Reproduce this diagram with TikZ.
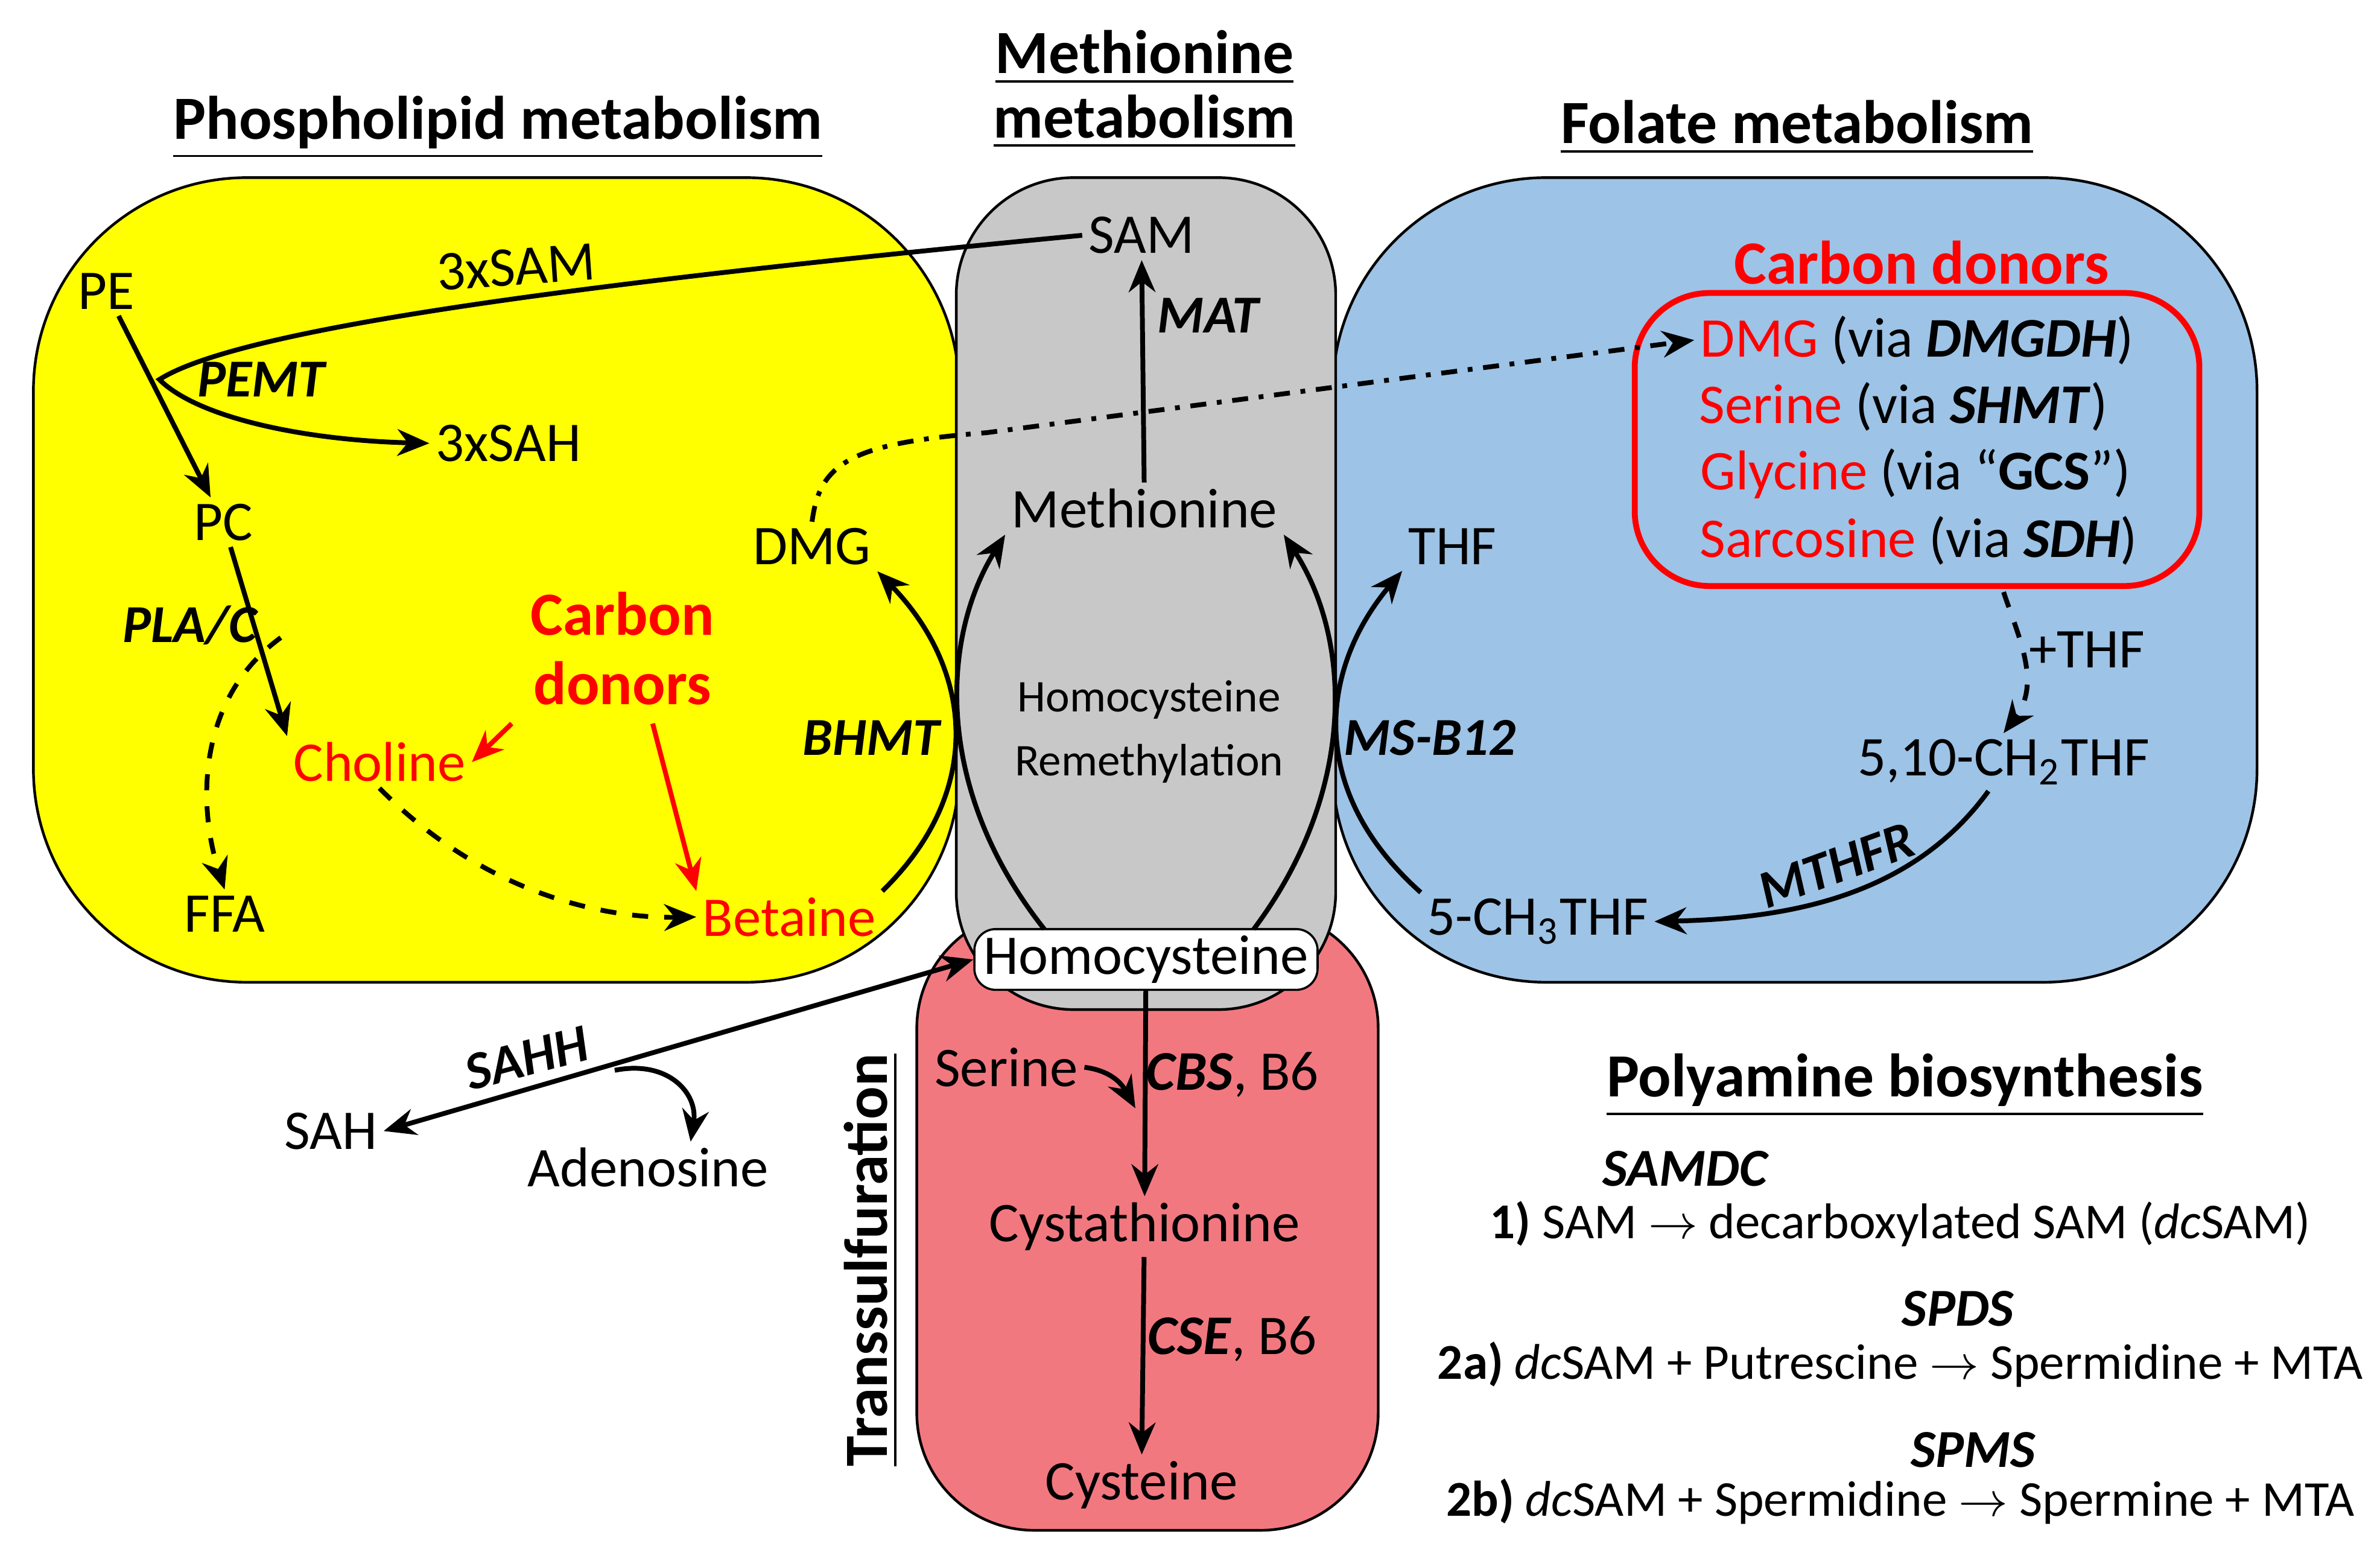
\documentclass[tikz,border=0pt]{standalone}
\usepackage{fontspec}
\setmainfont{Carlito}
\usetikzlibrary{arrows.meta}
\definecolor{yel}{HTML}{FFFF00}
\definecolor{gry}{HTML}{C8C8C8}
\definecolor{blu}{HTML}{9DC3E6}
\definecolor{pnk}{HTML}{F27880}
\definecolor{rd}{HTML}{FF0000}
\begin{document}
\begin{tikzpicture}[x=0.01cm,y=-0.01cm,
  txt/.style={font=\fontsize{10.5}{12}\selectfont,inner sep=1pt},
  ptx/.style={font=\fontsize{9.4}{12}\selectfont,inner sep=1pt},
  enz/.style={font=\fontsize{10}{12}\selectfont\bfseries\itshape,inner sep=1pt},
  ttl/.style={font=\fontsize{11.5}{14}\selectfont\bfseries,align=center},
  redt/.style={txt,text=rd},
  arr/.style={-{Stealth[length=6pt,width=5pt]},line width=0.9pt}]
\useasboundingbox (0,0) rectangle (1568,1024);
% boxes
\fill[pnk,draw=black,line width=0.5pt,rounded corners=22pt] (604,600) rectangle (908,1008);
\fill[yel,draw=black,line width=0.5pt,rounded corners=40pt] (22,117) rectangle (632,647);
\fill[blu,draw=black,line width=0.5pt,rounded corners=40pt] (878,117) rectangle (1487,647);
\fill[gry,draw=black,line width=0.5pt,rounded corners=22pt] (630,117) rectangle (880,665);
% titles
\node[ttl] (tpl) at (328,84) {\underline{Phospholipid metabolism}};
\node[ttl] (tme) at (754,59) {\underline{Methionine}\\[-2pt]\underline{metabolism}};
\node[ttl] (tfo) at (1184,84) {\underline{Folate metabolism}};
\node[ttl] (tpa) at (1255,715) {\underline{Polyamine biosynthesis}};
\node[ttl,rotate=90] (ttr) at (574,830) {\underline{Transsulfuration}};
% phospholipid
\node[txt] (pe) at (70,192) {PE};
\node[txt] (pc) at (147,344) {PC};
\node[txt,rotate=4] (sam3) at (340,176) {3xSAM};
\node[enz] (pemt) at (172,250) {PEMT};
\node[txt] (sah3) at (335,292) {3xSAH};
\node[enz] (plac) at (125,412) {PLA/C};
\node[redt] (cho) at (250,502) {Choline};
\node[ttl,text=rd] (cd1) at (410,427) {Carbon\\[-1pt]donors};
\node[txt] (ffa) at (148,602) {FFA};
\node[redt] (bet) at (520,604) {Betaine};
\node[txt] (dmg) at (535,360) {DMG};
\node[enz] (bhmt) at (574,486) {BHMT};
% methionine
\node[txt] (sam) at (752,155) {SAM};
\node[enz] (mat) at (796,208) {MAT};
\node[txt] (met) at (754,335) {Methionine};
\node[txt,font=\fontsize{8.5}{12}\selectfont,align=center] (hr) at (757,482) {Homocysteine\\Remethylation};
\node[txt,draw,fill=white,rounded corners=4pt,minimum width=22.6mm,minimum height=4mm] (hcy) at (755,632) {Homocysteine};
% folate
\node[enz] (ms) at (942,486) {MS-B12};
\node[txt] (thf) at (957,360) {THF};
\node[ttl,text=rd] (cd2) at (1266,173) {Carbon donors};
\draw[rd,line width=1.1pt,rounded corners=14pt] (1077,193) rectangle (1449,386);
\node[txt] (d1) at (1263,224) {\textcolor{rd}{DMG} (via \textbf{\textit{DMGDH}})};
\node[txt] (d2) at (1254,268) {\textcolor{rd}{Serine} (via \textbf{\textit{SHMT}})};
\node[txt] (d3) at (1262,312) {\textcolor{rd}{Glycine} (via “\textbf{GCS}”)};
\node[txt] (d4) at (1264,356) {\textcolor{rd}{Sarcosine} (via \textbf{\textit{SDH}})};
\node[txt] (pthf) at (1375,428) {+THF};
\node[txt] (ch2) at (1320,502) {5,10-CH\textsubscript{2}THF};
\node[enz,rotate=20] (mthfr) at (1210,570) {MTHFR};
\node[txt] (ch3) at (1013,607) {5-CH\textsubscript{3}THF};
% transsulfuration
\node[enz,rotate=15] (sahh) at (347,697) {SAHH};
\node[txt] (sah) at (218,745) {SAH};
\node[txt] (ade) at (427,769) {Adenosine};
\node[txt] (ser) at (663,703) {Serine};
\node[txt] (cbs) at (812,708) {\textbf{\textit{CBS}}, B6};
\node[txt] (cyt) at (754,808) {Cystathionine};
\node[txt] (cse) at (812,882) {\textbf{\textit{CSE}}, B6};
\node[txt] (cys) at (752,978) {Cysteine};
% polyamine
\node[enz] (samdc) at (1110,770) {SAMDC};
\node[ptx] (p1) at (1252,806) {\textbf{1)} SAM $\to$ decarboxylated SAM (\textit{dc}SAM)};
\node[enz] (spds) at (1290,862) {SPDS};
\node[ptx] (p2) at (1252,899) {\textbf{2a)} \textit{dc}SAM + Putrescine $\to$ Spermidine + MTA};
\node[enz] (spms) at (1300,955) {SPMS};
\node[ptx] (p3) at (1252,989) {\textbf{2b)} \textit{dc}SAM + Spermidine $\to$ Spermine + MTA};
% arrows
\draw[arr] (pe) -- (pc);
\draw[arr] (sam.west) .. controls (400,185) and (160,215) .. (105,250) .. controls (130,275) and (200,290) .. (sah3.west);
\draw[arr] (pc) -- (cho.north west);
\draw[arr,dashed] (185,420) .. controls (130,460) and (130,530) .. (ffa.north);
\draw[arr,dashed] (cho.south) .. controls (320,590) and (400,605) .. (bet.west);
\draw[arr,rd] (cd1.south west) -- (cho.east);
\draw[arr,rd] (cd1.south) ++(20,0) -- (bet.north west);
\draw[arr] (bet.north east) .. controls (650,520) and (640,440) .. (dmg.south east);
\draw[arr] (688,612) .. controls (615,520) and (620,420) .. (met.south west);
\draw[arr] (826,612) .. controls (895,520) and (890,420) .. (met.south east);
\draw[arr] (ch3.north west) .. controls (860,520) and (870,440) .. (thf.south west);
\draw[arr] (met) -- (sam);
\draw[arr,dash dot] (dmg.north) .. controls (540,305) and (560,292) .. (650,285) -- (d1.west);
\draw[arr,dashed] (1320,390) .. controls (1330,420) and (1345,450) .. (ch2.north);
\draw[arr] (ch2.south) ++(-10,0) .. controls (1260,590) and (1180,605) .. (ch3.east);
\draw[{Stealth[length=6pt,width=5pt]}-{Stealth[length=6pt,width=5pt]},line width=0.9pt] (hcy.west) -- (sah.east);
\draw[arr] (405,705) .. controls (440,698) and (460,720) .. (455,752);
\draw[arr] (hcy) -- (cyt);
\draw[arr] (ser.east) .. controls (730,705) and (738,712) .. (748,730);
\draw[arr] (cyt) -- (cys);
\end{tikzpicture}
\end{document}
